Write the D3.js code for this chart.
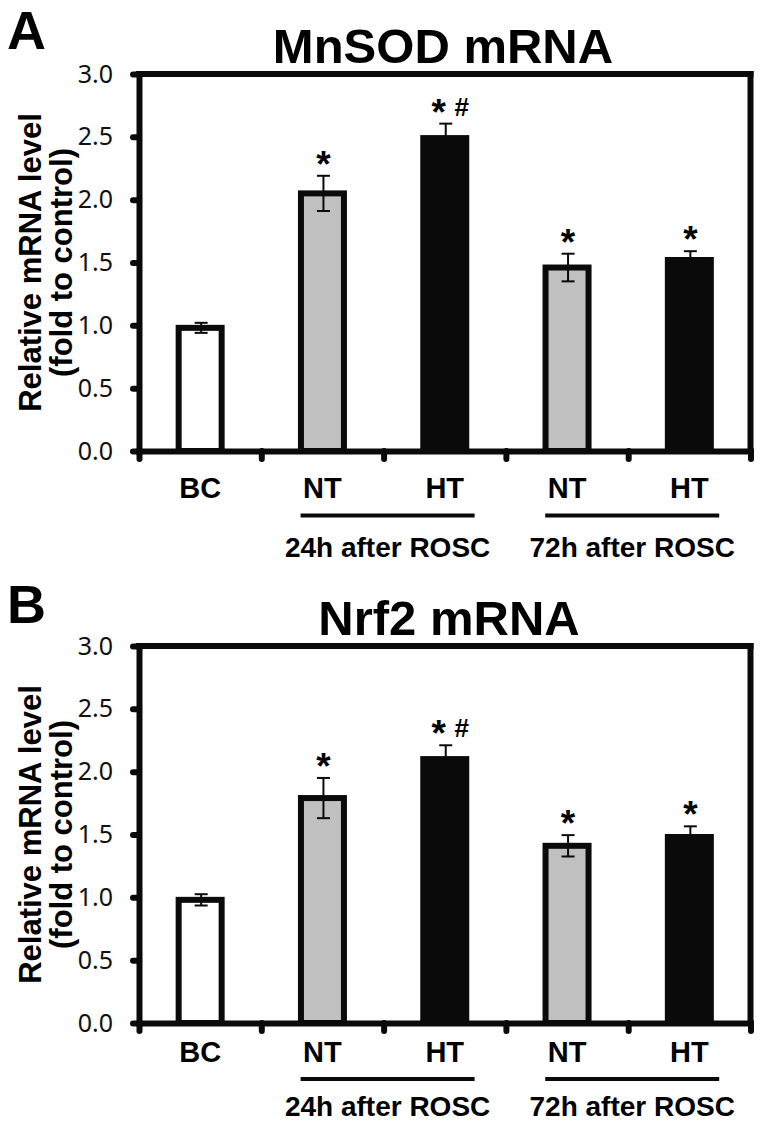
<!DOCTYPE html>
<html>
<head>
<meta charset="utf-8">
<script src="https://cdn.jsdelivr.net/npm/d3@7"></script>
<style>
  html, body { margin: 0; padding: 0; background: #fff; }
  svg { display: block; }
</style>
</head>
<body>
<div id="chart"></div>
<script>
// ---------- data ----------
const categories = ["BC", "NT-24h", "HT-24h", "NT-72h", "HT-72h"];
const tickLabels = ["BC", "NT", "HT", "NT", "HT"];
const groupLabels = ["24h after ROSC", "72h after ROSC"];
const yTicks = [0, 0.5, 1.0, 1.5, 2.0, 2.5, 3.0];

const mnsodMean = [0.98, 2.05, 2.49, 1.46, 1.52];
const mnsodErr  = [0.04, 0.14, 0.115, 0.11, 0.07];
const mnsodSig  = ["", "*", "*#", "*", "*"];

const nrf2Mean = [0.98, 1.79, 2.10, 1.41, 1.48];
const nrf2Err  = [0.045, 0.16, 0.11, 0.085, 0.085];
const nrf2Sig  = ["", "*", "*#", "*", "*"];

// ---------- drawing ----------
const W = 764, H = 1127;
const svg = d3.select("#chart").append("svg")
  .attr("width", W).attr("height", H)
  .attr("viewBox", `0 0 ${W} ${H}`);
svg.append("rect").attr("width", W).attr("height", H).attr("fill", "#fff");

const BOLD = "'Liberation Sans', Arial, Helvetica, sans-serif";
const TICKFONT = "'Noto Sans', 'DejaVu Sans', sans-serif";
const INK = "#0a0a0a";

const fillScale = d3.scaleOrdinal()
  .domain(categories)
  .range(["#ffffff", "#c0c0c0", INK, "#c0c0c0", INK]);

function drawPanel(cfg) {
  const left = 139, right = 750.5;
  const g = svg.append("g");

  const x = d3.scaleBand().domain(categories).range([left, right]).padding(0);
  const xEdge = d3.scaleLinear().domain([0, categories.length]).range([left, right]);
  const y = d3.scaleLinear().domain([0, 3]).range([cfg.bottom, cfg.top]);

  const data = categories.map((c, i) => ({
    cat: c, label: tickLabels[i], mean: cfg.mean[i], err: cfg.err[i], sig: cfg.sig[i]
  }));

  // panel letter
  g.append("text")
    .attr("x", 7).attr("y", cfg.letterY)
    .attr("font-family", BOLD).attr("font-weight", "bold")
    .attr("font-size", 54).attr("fill", "#000")
    .text(cfg.letter);

  // title
  g.append("text")
    .attr("x", cfg.titleX).attr("y", cfg.titleY)
    .attr("text-anchor", "middle")
    .attr("font-family", BOLD).attr("font-weight", "bold")
    .attr("font-size", 49).attr("fill", "#000")
    .text(cfg.title);

  // bars
  const barW = 43;
  g.selectAll("rect.bar").data(data).join("rect")
    .attr("class", "bar")
    .attr("x", d => x(d.cat) + (x.bandwidth() - barW) / 2)
    .attr("width", barW)
    .attr("y", d => y(d.mean))
    .attr("height", d => y(0) - y(d.mean))
    .attr("fill", d => fillScale(d.cat))
    .attr("stroke", INK)
    .attr("stroke-width", 6);

  // error bars
  const cx = d => x(d.cat) + x.bandwidth() / 2 + 1;
  const capW = 13;
  const eb = g.selectAll("g.eb").data(data).join("g").attr("class", "eb")
    .attr("stroke", INK).attr("stroke-width", 2);
  eb.append("line")
    .attr("x1", cx).attr("x2", cx)
    .attr("y1", d => y(d.mean + d.err)).attr("y2", d => y(d.mean - d.err));
  eb.append("line")
    .attr("x1", d => cx(d) - capW / 2).attr("x2", d => cx(d) + capW / 2)
    .attr("y1", d => y(d.mean + d.err)).attr("y2", d => y(d.mean + d.err));
  eb.append("line")
    .attr("x1", d => cx(d) - capW / 2).attr("x2", d => cx(d) + capW / 2)
    .attr("y1", d => y(d.mean - d.err)).attr("y2", d => y(d.mean - d.err));

  // significance marks
  const sigData = data.filter(d => d.sig.length > 0);
  const starC = d => y(d.mean + d.err) - 20;
  g.selectAll("text.star").data(sigData).join("text")
    .attr("class", "star")
    .attr("x", d => cx(d) + (d.sig.includes("#") ? -7 : 0))
    .attr("y", d => starC(d) + 21)
    .attr("text-anchor", "middle")
    .attr("font-family", BOLD).attr("font-weight", "bold")
    .attr("font-size", 37).attr("fill", "#000")
    .text("*");
  g.selectAll("text.hash").data(sigData.filter(d => d.sig.includes("#"))).join("text")
    .attr("class", "hash")
    .attr("x", d => cx(d) + 16)
    .attr("y", d => starC(d) + 12)
    .attr("text-anchor", "middle")
    .attr("font-family", BOLD).attr("font-weight", "bold")
    .attr("font-size", 26).attr("fill", "#000")
    .text("#");

  // frame: top and right
  g.append("line")
    .attr("x1", left).attr("x2", right)
    .attr("y1", cfg.top).attr("y2", cfg.top)
    .attr("stroke", INK).attr("stroke-width", 6).attr("stroke-linecap", "square");
  g.append("line")
    .attr("x1", right).attr("x2", right)
    .attr("y1", cfg.top).attr("y2", cfg.bottom)
    .attr("stroke", INK).attr("stroke-width", 6).attr("stroke-linecap", "square");

  // y axis
  const yAxis = g.append("g")
    .attr("transform", `translate(${left},0)`)
    .call(d3.axisLeft(y).tickValues(yTicks).tickFormat(d3.format(".1f"))
      .tickSize(6).tickSizeOuter(0).tickPadding(20));
  yAxis.select(".domain").attr("stroke", INK).attr("stroke-width", 6)
    .attr("stroke-linecap", "square");
  yAxis.selectAll(".tick line").attr("stroke", INK).attr("stroke-width", 6)
    .attr("stroke-linecap", "round");
  yAxis.selectAll(".tick text")
    .attr("font-family", TICKFONT).attr("font-size", 25).attr("fill", "#111");

  // x axis (edge ticks)
  const xAxis = g.append("g")
    .attr("transform", `translate(0,${cfg.bottom})`)
    .call(d3.axisBottom(xEdge).tickValues(d3.range(categories.length + 1))
      .tickFormat("").tickSize(8).tickSizeOuter(0));
  xAxis.select(".domain").attr("stroke", INK).attr("stroke-width", 6)
    .attr("stroke-linecap", "square");
  xAxis.selectAll(".tick line").attr("stroke", INK).attr("stroke-width", 6)
    .attr("stroke-linecap", "round");

  // category labels
  const xLab = g.append("g")
    .attr("transform", `translate(0,${cfg.labelY})`)
    .call(d3.axisBottom(x).tickSize(0).tickPadding(0)
      .tickFormat((d, i) => tickLabels[i]));
  xLab.select(".domain").remove();
  xLab.selectAll(".tick text")
    .attr("dy", 0).attr("y", 0)
    .attr("font-family", BOLD).attr("font-weight", "bold")
    .attr("font-size", 29).attr("fill", "#000");

  // group brackets
  const groups = [[categories[1], categories[2]], [categories[3], categories[4]]];
  groups.forEach((pair, gi) => {
    const c1 = x(pair[0]) + x.bandwidth() / 2;
    const c2 = x(pair[1]) + x.bandwidth() / 2;
    const mid = (c1 + c2) / 2 + 4;
    g.append("line")
      .attr("x1", mid - 87).attr("x2", mid + 87)
      .attr("y1", cfg.groupLineY).attr("y2", cfg.groupLineY)
      .attr("stroke", INK).attr("stroke-width", 4);
    g.append("text")
      .attr("x", mid).attr("y", cfg.groupTextY)
      .attr("text-anchor", "middle")
      .attr("font-family", BOLD).attr("font-weight", "bold")
      .attr("font-size", 28).attr("fill", "#000")
      .text(groupLabels[gi]);
  });

  // y title
  const cy = (cfg.top + cfg.bottom) / 2;
  const yt = g.append("g").attr("font-family", BOLD).attr("font-weight", "bold")
    .attr("font-size", 31).attr("fill", "#000").attr("text-anchor", "middle");
  yt.append("text").attr("transform", `translate(41,${cy}) rotate(-90)`)
    .text("Relative mRNA level");
  yt.append("text").attr("transform", `translate(72,${cy}) rotate(-90)`)
    .text("(fold to control)");
}

drawPanel({
  letter: "A", letterY: 49, title: "MnSOD mRNA", titleX: 443, titleY: 63,
  top: 74, bottom: 451, labelY: 498, groupLineY: 515.5, groupTextY: 557,
  mean: mnsodMean, err: mnsodErr, sig: mnsodSig
});
drawPanel({
  letter: "B", letterY: 623, title: "Nrf2 mRNA", titleX: 449, titleY: 635,
  top: 646, bottom: 1023, labelY: 1061.5, groupLineY: 1079, groupTextY: 1116,
  mean: nrf2Mean, err: nrf2Err, sig: nrf2Sig
});
</script>
</body>
</html>
